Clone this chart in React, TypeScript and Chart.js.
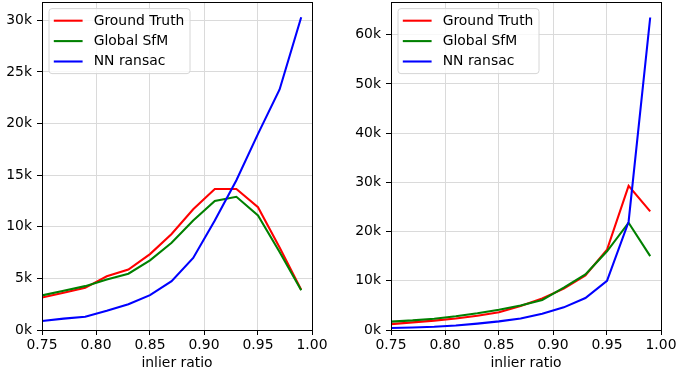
import React, { useEffect, useRef } from 'react';
import { Chart, registerables } from 'chart.js';

Chart.register(...registerables);

// ---------- data ----------
const xValues = [0.75, 0.77, 0.79, 0.81, 0.83, 0.85, 0.87, 0.89, 0.91, 0.93, 0.95, 0.97, 0.99];
const seriesLabels = ['Ground Truth', 'Global SfM', 'NN ransac'];
const seriesColors = ['#ff0000', '#008000', '#0000ff'];

const gtLeft = [3150, 3600, 4080, 5200, 5850, 7350, 9300, 11700, 13650, 13650, 11900, 8000, 3900];
const sfmLeft = [3350, 3800, 4250, 4900, 5450, 6750, 8450, 10600, 12500, 12900, 11100, 7550, 3850];
const nnLeft = [870, 1100, 1290, 1860, 2500, 3380, 4730, 6980, 10600, 14500, 19000, 23300, 30300];

const gtRight = [1200, 1550, 1900, 2350, 2900, 3600, 4900, 6400, 8400, 11100, 16300, 29300, 24100];
const sfmRight = [1700, 1950, 2300, 2800, 3400, 4100, 5000, 6100, 8600, 11300, 16000, 21800, 15000];
const nnRight = [400, 500, 650, 900, 1300, 1750, 2350, 3300, 4600, 6500, 10000, 22000, 63500];

const xTicks = [0.75, 0.8, 0.85, 0.9, 0.95, 1.0];
const xTickLabels = ['0.75', '0.80', '0.85', '0.90', '0.95', '1.00'];
const yTicksLeft = [0, 5000, 10000, 15000, 20000, 25000, 30000];
const yTickLabelsLeft = ['0k', '5k', '10k', '15k', '20k', '25k', '30k'];
const yTicksRight = [0, 10000, 20000, 30000, 40000, 50000, 60000];
const yTickLabelsRight = ['0k', '10k', '20k', '30k', '40k', '50k', '60k'];
const xTitle = 'inlier ratio';

// ---------- styling ----------
const FONT_FAMILY = "'DejaVu Sans', 'Liberation Sans', sans-serif";
const FONT_SIZE = 13.9;
const GRID_COLOR = '#dadada';

const framePlugin = {
  id: 'mplFrame',
  afterDatasetsDraw(chart: any) {
    const { ctx, chartArea } = chart;
    ctx.save();
    ctx.strokeStyle = '#000';
    ctx.lineWidth = 1;
    const l = Math.round(chartArea.left) + 0.5;
    const t = Math.round(chartArea.top) + 0.5;
    const r = Math.round(chartArea.right) + 0.5;
    const b = Math.round(chartArea.bottom) + 0.5;
    ctx.strokeRect(l, t, r - l, b - t);
    ctx.restore();
  },
};

const legendPlugin = {
  id: 'mplLegend',
  afterDraw(chart: any) {
    const { ctx, chartArea } = chart;
    const bx = chartArea.left + 7;
    const by = chartArea.top + 6.6;
    const bw = 141;
    const bh = 65;
    const rad = 3;
    ctx.save();
    ctx.beginPath();
    ctx.moveTo(bx + rad, by);
    ctx.lineTo(bx + bw - rad, by);
    ctx.arcTo(bx + bw, by, bx + bw, by + rad, rad);
    ctx.lineTo(bx + bw, by + bh - rad);
    ctx.arcTo(bx + bw, by + bh, bx + bw - rad, by + bh, rad);
    ctx.lineTo(bx + rad, by + bh);
    ctx.arcTo(bx, by + bh, bx, by + bh - rad, rad);
    ctx.lineTo(bx, by + rad);
    ctx.arcTo(bx, by, bx + rad, by, rad);
    ctx.closePath();
    ctx.fillStyle = 'rgba(255,255,255,0.8)';
    ctx.fill();
    ctx.strokeStyle = '#d6d6d6';
    ctx.lineWidth = 1;
    ctx.stroke();

    ctx.font = `${FONT_SIZE}px ${FONT_FAMILY}`;
    ctx.textBaseline = 'middle';
    ctx.textAlign = 'left';
    chart.data.datasets.forEach((ds: any, i: number) => {
      const y = by + 12.1 + i * 20.4;
      ctx.beginPath();
      ctx.strokeStyle = ds.borderColor;
      ctx.lineWidth = 2.08;
      ctx.moveTo(bx + 4.8, y);
      ctx.lineTo(bx + 33.6, y);
      ctx.stroke();
      ctx.fillStyle = '#000';
      ctx.fillText(ds.label, bx + 44.7, y + 0.3);
    });
    ctx.restore();
  },
};

type PanelProps = {
  left: number;
  width: number;
  yAxisWidth: number;
  rightPad: number;
  series: number[][];
  yMax: number;
  yTicks: number[];
  yTickLabels: string[];
};

function Panel({ left, width, yAxisWidth, rightPad, series, yMax, yTicks, yTickLabels }: PanelProps) {
  const ref = useRef<HTMLCanvasElement | null>(null);

  useEffect(() => {
    if (!ref.current) return;
    const font = { family: FONT_FAMILY, size: FONT_SIZE };
    const datasets = series.map((vals, i) => ({
      label: seriesLabels[i],
      data: xValues.map((x, j) => ({ x, y: vals[j] })),
      borderColor: seriesColors[i],
      backgroundColor: seriesColors[i],
      borderWidth: 2.08,
      pointRadius: 0,
      pointHoverRadius: 0,
      tension: 0,
      fill: false,
      order: series.length - i,
    }));
    const chart = new Chart(ref.current, {
      type: 'line',
      data: { datasets },
      options: {
        animation: false,
        responsive: false,
        maintainAspectRatio: false,
        devicePixelRatio: 1,
        events: [],
        layout: { padding: { left: 0, right: rightPad, top: 2, bottom: 0 } },
        plugins: {
          legend: { display: false },
          tooltip: { enabled: false },
          title: { display: false },
        },
        scales: {
          x: {
            type: 'linear',
            min: 0.75,
            max: 1.0,
            afterBuildTicks: (axis: any) => {
              axis.ticks = xTicks.map((value) => ({ value }));
            },
            afterFit: (axis: any) => {
              axis.height = 47;
              axis.paddingLeft = 0;
              axis.paddingRight = 0;
            },
            ticks: {
              autoSkip: false,
              maxRotation: 0,
              minRotation: 0,
              padding: 2,
              color: '#000',
              font,
              callback: (v: any) => {
                const k = xTicks.indexOf(v);
                return k >= 0 ? xTickLabels[k] : '';
              },
            },
            grid: {
              color: GRID_COLOR,
              lineWidth: 1,
              drawTicks: true,
              tickLength: 5,
              tickColor: '#000',
              tickWidth: 1,
            },
            border: { display: false },
            title: {
              display: true,
              text: xTitle,
              color: '#000',
              font,
              padding: { top: 0, bottom: 5.2 },
            },
          },
          y: {
            type: 'linear',
            min: 0,
            max: yMax,
            afterBuildTicks: (axis: any) => {
              axis.ticks = yTicks.map((value) => ({ value }));
            },
            afterFit: (axis: any) => {
              axis.width = yAxisWidth;
              axis.paddingTop = 0;
              axis.paddingBottom = 0;
            },
            ticks: {
              autoSkip: false,
              padding: 5,
              color: '#000',
              font,
              callback: (v: any) => {
                const k = yTicks.indexOf(v);
                return k >= 0 ? yTickLabels[k] : '';
              },
            },
            grid: {
              color: GRID_COLOR,
              lineWidth: 1,
              drawTicks: true,
              tickLength: 5,
              tickColor: '#000',
              tickWidth: 1,
            },
            border: { display: false },
          },
        },
      },
      plugins: [framePlugin, legendPlugin],
    } as any);
    return () => chart.destroy();
  }, []);

  return (
    <canvas
      ref={ref}
      width={width}
      height={377}
      style={{ position: 'absolute', left, top: 0, width, height: 377, display: 'block' }}
    />
  );
}

export default function App() {
  return (
    <div
      style={{
        position: 'fixed',
        left: 0,
        top: 0,
        width: 676,
        height: 377,
        background: '#fff',
        overflow: 'hidden',
      }}
    >
      <Panel
        left={0}
        width={338}
        yAxisWidth={42}
        rightPad={26}
        series={[gtLeft, sfmLeft, nnLeft]}
        yMax={31770}
        yTicks={yTicksLeft}
        yTickLabels={yTickLabelsLeft}
      />
      <Panel
        left={338}
        width={338}
        yAxisWidth={53}
        rightPad={15}
        series={[gtRight, sfmRight, nnRight]}
        yMax={66650}
        yTicks={yTicksRight}
        yTickLabels={yTickLabelsRight}
      />
    </div>
  );
}
